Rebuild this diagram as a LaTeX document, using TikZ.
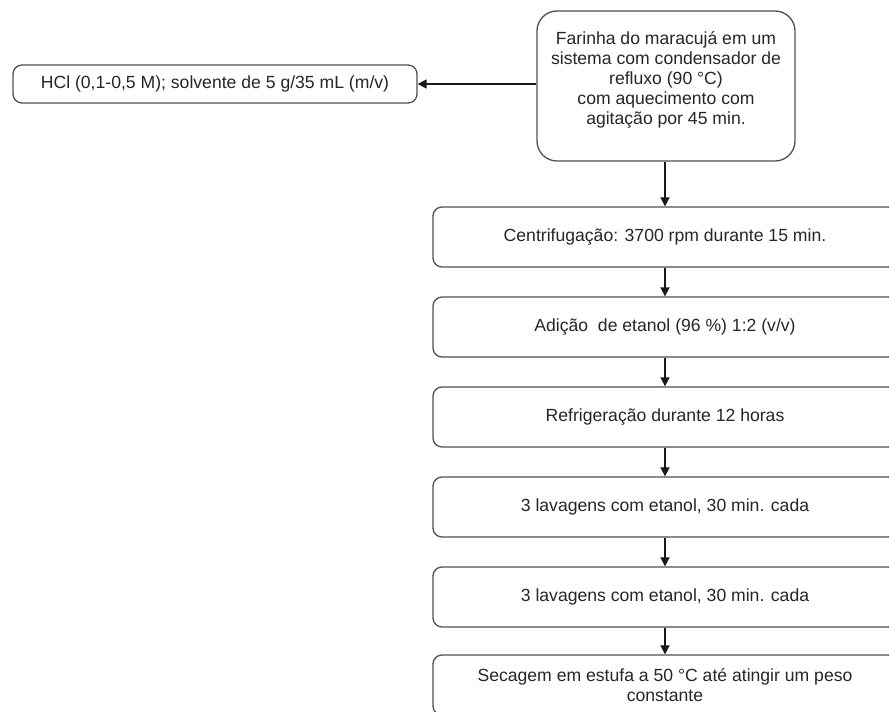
\documentclass[tikz,border=0pt]{standalone}
\usepackage{fontspec}
\setmainfont{Liberation Sans}
\usetikzlibrary{arrows.meta}
\definecolor{txt}{HTML}{262626}
\definecolor{edge}{HTML}{505050}
\tikzset{
  stepbox/.style={draw=edge, line width=1.3pt, rounded corners=9pt, fill=white,
    minimum width=464pt, minimum height=60pt, inner sep=0pt,
    text=txt, align=center, font=\fontsize{17.6}{20}\selectfont},
  sidebox/.style={stepbox, minimum width=404pt, minimum height=38pt},
  startbox/.style={stepbox, rounded corners=20pt, minimum width=258pt,
    minimum height=150pt},
  flow/.style={draw=black!90, line width=1.6pt, -{Triangle[length=9pt,width=9pt]}}
}
\begin{document}
\begin{tikzpicture}[x=1pt,y=-1pt]
  \useasboundingbox (0,0) rectangle (889,712);
  \clip (0,0) rectangle (889,712);
  % trailing space under the text lifts it a little above the box middle
  \node[startbox] (s0) at (666,86) {\parbox{250pt}{\centering
    Farinha do maracujá em um\\sistema com condensador de\\refluxo (90 °C)\\com aquecimento com\\agitação por 45 min.\par\vskip12pt}};
  \node[sidebox] (acid) at (215,84) {HCl (0,1-0,5 M); solvente de 5 g/35 mL (m/v)};
  \node[stepbox] (s1) at (665,237) {Centrifugação: 3700 rpm durante 15 min.};
  \node[stepbox] (s2) at (665,327) {Adição\ \ de etanol (96 \%) 1:2 (v/v)};
  \node[stepbox] (s3) at (665,417) {Refrigeração durante 12 horas};
  \node[stepbox] (s4) at (665,507) {3 lavagens com etanol, 30 min. cada};
  \node[stepbox] (s5) at (665,597) {3 lavagens com etanol, 30 min. cada};
  \node[stepbox] (s6) at (665,685) {Secagem em estufa a 50 °C até atingir um peso\\constante};
  \draw[flow] (s0.west |- acid.east) -- (acid.east);
  \draw[flow] (s0.south -| s1.north) -- (s1.north);
  \draw[flow] (s1) -- (s2);
  \draw[flow] (s2) -- (s3);
  \draw[flow] (s3) -- (s4);
  \draw[flow] (s4) -- (s5);
  \draw[flow] (s5) -- (s6);
\end{tikzpicture}
\end{document}
